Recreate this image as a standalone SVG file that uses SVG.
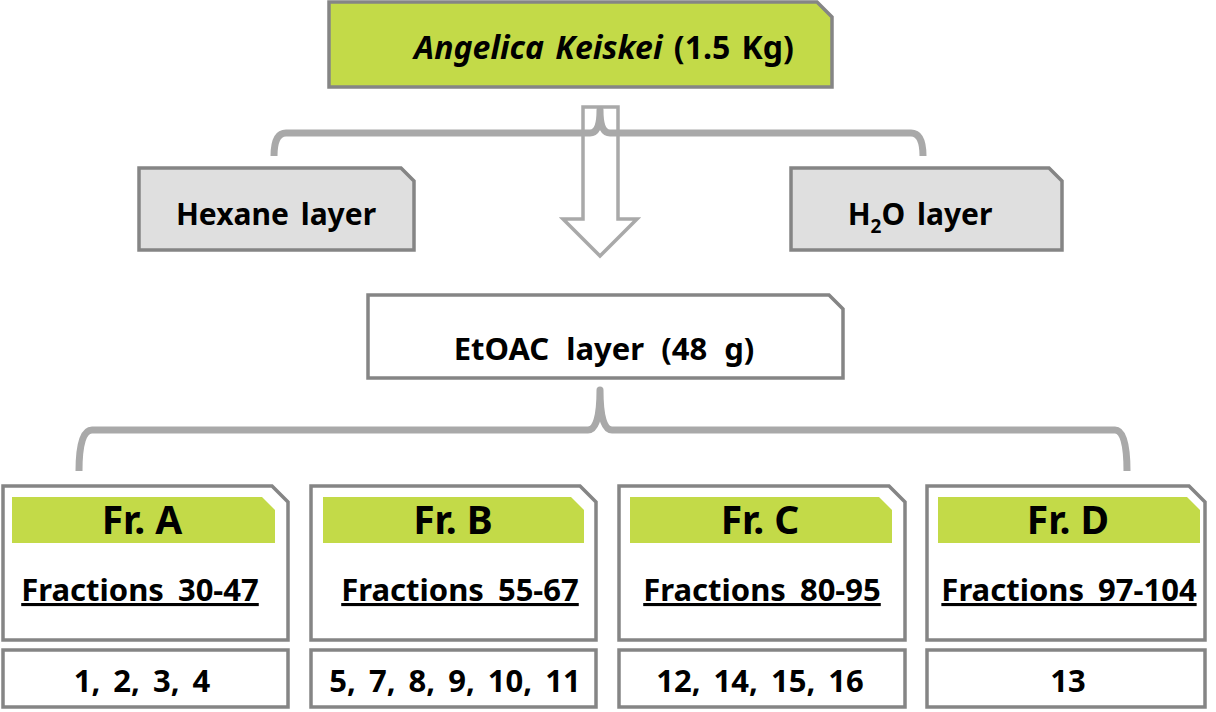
<svg xmlns="http://www.w3.org/2000/svg" width="1216" height="712" viewBox="0 0 1216 712">
<style>
.box{stroke:#858585;stroke-width:3.5;stroke-linejoin:miter}
.green{fill:#c3da48}
.gray{fill:#dfdfdf}
.white{fill:#ffffff}
.hdr{fill:#c3da48;stroke:none}
.brace{fill:none;stroke:#a9a9a9;stroke-width:7;stroke-linecap:butt;stroke-linejoin:round}
.arrow{fill:#ffffff;stroke:#a9a9a9;stroke-width:3.5;stroke-linejoin:miter}
text{font-family:"Noto Sans","Open Sans","Liberation Sans",sans-serif;font-weight:bold;fill:#000;text-anchor:middle}
.t30{font-size:30px}
.t31{font-size:31px;word-spacing:6px}
.num{font-size:31px;word-spacing:5px}
.t38{font-size:39px}
.u{text-decoration:underline}
</style>
<g id="connectors">
<path class="arrow" d="M583,107 H618 V219 H637 L600,256 L563,219 H583 Z"/>
<path class="brace" d="M274,156 Q274,133 286,133 H590 Q600,133 600,110 Q600,133 610,133 H911 Q923,133 923,156"/>
<path class="brace" d="M79,471 Q79,430 92,430 H588 Q600,430 600,390 Q600,430 612,430 H1115 Q1127,430 1127,471"/>
</g>
<g id="angelica">
<path class="box green" d="M329,2 H817 L832,17 V87 H329 Z"/>
<text x="604" y="59" style="font-size:32px;word-spacing:3px"><tspan font-style="italic">Angelica Keiskei</tspan> (1.5 Kg)</text>
</g>
<g id="hexane">
<path class="box gray" d="M139,168 H401 L414,181 V250 H139 Z"/>
<text class="t30" x="276" y="225" style="word-spacing:4px">Hexane layer</text>
</g>
<g id="h2o">
<path class="box gray" d="M791,168 H1049 L1062,181 V250 H791 Z"/>
<text class="t30" x="920" y="225" style="word-spacing:4px">H<tspan font-size="19px" dy="8">2</tspan><tspan dy="-8">O layer</tspan></text>
</g>
<g id="etoac">
<path class="box white" d="M368,295 H829 L843,309 V378 H368 Z"/>
<text class="t31" x="604" y="360" style="word-spacing:9px">EtOAC layer (48 g)</text>
</g>
<g id="frA">
<path class="box white" d="M3,486 H272 L288,502 V640 H3 Z"/>
<path class="hdr" d="M12,497 H262 L275,510 V543 H12 Z"/>
<text class="t38" x="142" y="534">Fr. A</text>
<text class="t31 u" x="140" y="601">Fractions 30-47</text>
</g>
<g id="resA">
<rect class="box white" x="3" y="650" width="285" height="57"/>
<text class="num" x="142" y="692">1, 2, 3, 4</text>
</g>
<g id="frB">
<path class="box white" d="M311,486 H580 L596,502 V640 H311 Z"/>
<path class="hdr" d="M323,497 H571 L584,510 V543 H323 Z"/>
<text class="t38" x="453" y="534">Fr. B</text>
<text class="t31 u" x="460" y="601">Fractions 55-67</text>
</g>
<g id="resB">
<rect class="box white" x="311" y="650" width="285" height="57"/>
<text class="num" x="455" y="692">5, 7, 8, 9, 10, 11</text>
</g>
<g id="frC">
<path class="box white" d="M619,486 H889 L905,502 V640 H619 Z"/>
<path class="hdr" d="M630,497 H879 L892,510 V543 H630 Z"/>
<text class="t38" x="760" y="534">Fr. C</text>
<text class="t31 u" x="762" y="601">Fractions 80-95</text>
</g>
<g id="resC">
<rect class="box white" x="619" y="650" width="286" height="57"/>
<text class="num" x="760" y="692">12, 14, 15, 16</text>
</g>
<g id="frD">
<path class="box white" d="M927,486 H1189 L1205,502 V640 H927 Z"/>
<path class="hdr" d="M938,497 H1187 L1200,510 V543 H938 Z"/>
<text class="t38" x="1068" y="534">Fr. D</text>
<text class="t31 u" x="1069" y="601">Fractions 97-104</text>
</g>
<g id="resD">
<rect class="box white" x="927" y="650" width="278" height="57"/>
<text class="num" x="1068" y="692">13</text>
</g>
</svg>
